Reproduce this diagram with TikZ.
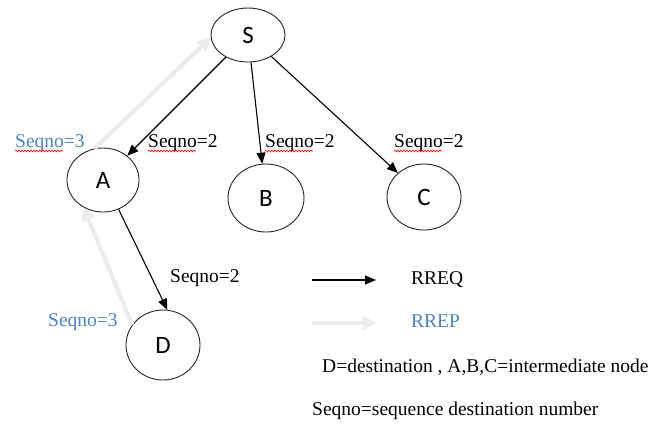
\documentclass[tikz,border=0pt]{standalone}
\usepackage{fontspec}
\setmainfont{Liberation Serif}
\newfontfamily\letterfont{Carlito}
\usetikzlibrary{shapes.geometric,arrows.meta,decorations.pathmorphing}
\definecolor{repblue}{RGB}{79,129,189}
\definecolor{repgray}{RGB}{236,236,236}

\begin{document}
\begin{tikzpicture}[x=1pt,y=-1pt,
    station/.style={draw=black!85,line width=0.9pt,ellipse,inner sep=0pt,
      font=\letterfont\fontsize{25}{25}\selectfont},
    req/.style={-{Triangle[length=11pt,width=9pt]},line width=1.1pt},
    rep/.style={-{Triangle[length=13pt,width=14pt]},line width=4.2pt,color=repgray},
    seq/.style={anchor=base west,inner sep=0pt,font=\fontsize{19.5}{19.5}\selectfont},
    squig/.style={red,line width=0.6pt,decorate,
      decoration={snake,amplitude=0.9pt,segment length=3pt}}]
  \useasboundingbox (0,0) rectangle (666,424);
  % the stations
  \node[station,minimum width=74pt,minimum height=54pt] (S) at (248,35) {S};
  \node[station,minimum width=72pt,minimum height=64pt] (A) at (103,180) {A};
  \node[station,minimum width=76pt,minimum height=68pt] (B) at (266,198) {B};
  \node[station,minimum width=74pt,minimum height=66pt] (C) at (424,197) {C};
  \node[station,minimum width=74pt,minimum height=70pt] (D) at (163,345) {D};
  % replies (drawn first, they lie underneath)
  \draw[rep] (D.147) -- (A.235);
  \draw[rep] (A.105) -- (S.184);
  % requests
  \draw[req] (S) -- (A);
  \draw[req] (S) -- (B);
  \draw[req] (S) -- (C);
  \draw[req] (A.-62) -- (D.83);
  % sequence numbers
  \node[seq,text=repblue] (sA3) at (15,147) {Seqno=3};
  \node[seq] (sA2) at (148,147) {Seqno=2};
  \node[seq] (sB2) at (265,147) {Seqno=2};
  \node[seq] (sC2) at (394,147) {Seqno=2};
  \node[seq] (sD2) at (170,282) {Seqno=2};
  \node[seq,text=repblue] (sD3) at (48,326) {Seqno=3};
  \foreach \l in {sA3,sA2,sB2,sC2}
    \draw[squig] ([yshift=-4pt]\l.base west) -- ++(48,0);
  % legend
  \coordinate (q1) at (312,280);
  \coordinate (q2) at (376,280);
  \coordinate (p1) at (312,323);
  \coordinate (p2) at (376,323);
  \draw[req] (q1) -- (q2);
  \draw[rep] (p1) -- (p2);
  \node[seq] (rreq) at (411,284) {RREQ};
  \node[seq,text=repblue] (rrep) at (411,327) {RREP};
  \node[seq] (note1) at (322,372) {D=destination , A,B,C=intermediate node};
  \node[seq] (note2) at (312,415) {Seqno=sequence destination number};
\end{tikzpicture}
\end{document}
